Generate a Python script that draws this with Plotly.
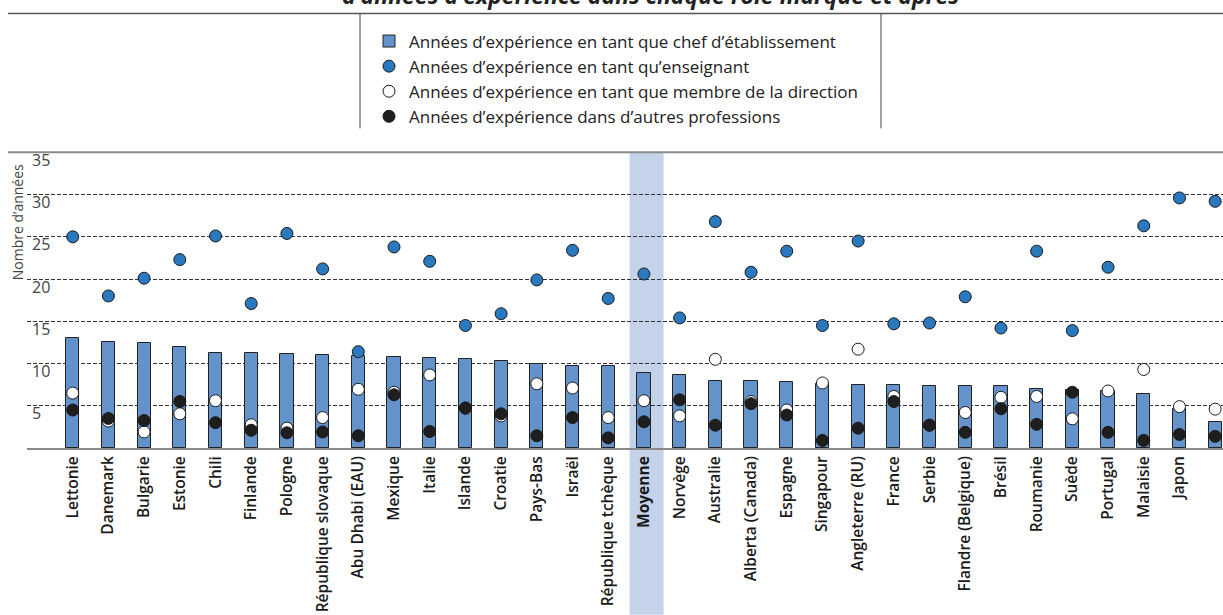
import plotly.graph_objects as go

# ---------------------------------------------------------------------
# data (years)
# ---------------------------------------------------------------------
countries = [
    "Lettonie", "Danemark", "Bulgarie", "Estonie", "Chili", "Finlande", "Pologne",
    "République slovaque", "Abu Dhabi (EAU)", "Mexique", "Italie", "Islande",
    "Croatie", "Pays-Bas", "Israël", "République tchèque", "Moyenne", "Norvège",
    "Australie", "Alberta (Canada)", "Espagne", "Singapour", "Angleterre (RU)",
    "France", "Serbie", "Flandre (Belgique)", "Brésil", "Roumanie", "Suède",
    "Portugal", "Malaisie", "Japon", "Corée",
]
principal_years = [
    13.0, 12.6, 12.4, 12.0, 11.2, 11.2, 11.1, 11.0, 10.85, 10.8, 10.7, 10.5,
    10.3, 10.0, 9.75, 9.7, 8.85, 8.65, 7.95, 7.95, 7.8, 7.6, 7.5,
    7.5, 7.35, 7.3, 7.3, 6.95, 6.9, 6.8, 6.4, 4.6, 3.05,
]
teacher_years = [
    25.0, 18.0, 20.1, 22.3, 25.1, 17.1, 25.4, 21.2, 11.4, 23.8, 22.1, 14.5,
    15.9, 19.9, 23.4, 17.7, 20.6, 15.4, 26.8, 20.8, 23.3, 14.5, 24.5,
    14.7, 14.8, 17.9, 14.2, 23.3, 13.9, 21.4, 26.3, 29.6, 29.2,
]
management_years = [
    6.5, 3.2, 1.9, 4.05, 5.6, 2.75, 2.35, 3.6, 6.95, 6.6, 8.65, 4.7,
    3.8, 7.6, 7.1, 3.6, 5.6, 3.8, 10.5, 5.5, 4.5, 7.7, 11.7,
    6.1, 2.7, 4.2, 6.0, 6.1, 3.45, 6.75, 9.3, 4.9, 4.6,
]
other_years = [
    4.5, 3.5, 3.25, 5.5, 3.0, 2.1, 1.8, 1.9, 1.45, 6.3, 1.95, 4.75,
    4.05, 1.45, 3.6, 1.2, 3.1, 5.7, 2.7, 5.25, 3.9, 0.9, 2.35,
    5.5, 2.7, 1.85, 4.65, 2.8, 6.6, 1.85, 0.9, 1.6, 1.38,
]
y_ticks = [0, 5, 10, 15, 20, 25, 30, 35]

legend_names = [
    "Années d’expérience en tant que chef d’établissement",
    "Années d’expérience en tant qu’enseignant",
    "Années d’expérience en tant que membre de la direction",
    "Années d’expérience dans d’autres professions",
]
title_text = "d’années d’expérience dans chaque rôle marqué et après"
y_title = "Nombre d’années"
highlight = "Moyenne"

# ---------------------------------------------------------------------
# layout constants (pixels)
# ---------------------------------------------------------------------
W, H = 1223, 615
Y_TOP = 38                      # headroom so the "35" label is not clipped
UNIT = 8.457                    # px per year
BOTTOM_PX = 448                 # pixel row of y = 0
L, R = 27, 0
B = H - BOTTOM_PX
T = BOTTOM_PX - Y_TOP * UNIT
PW, PH = W - L - R, H - T - B
FONT = "Open Sans"


def px_x(p):
    return (p - L) / PW


def px_y(p):
    return (BOTTOM_PX - p) / PH


x_idx = list(range(len(countries)))
tick_text = [f"<b>{c}</b>" if c == highlight else c for c in countries]

fig = go.Figure()

fig.add_trace(go.Bar(
    x=x_idx, y=principal_years, name=legend_names[0], width=0.37,
    marker=dict(color="#6493CC", line=dict(color="#222222", width=1)),
))
fig.add_trace(go.Scatter(
    x=x_idx, y=teacher_years, name=legend_names[1], mode="markers",
    marker=dict(size=12, color="#2A78BD", line=dict(color="#1a1a1a", width=1)),
))
fig.add_trace(go.Scatter(
    x=x_idx, y=management_years, name=legend_names[2], mode="markers",
    marker=dict(size=12, color="#ffffff", line=dict(color="#1a1a1a", width=1)),
))
fig.add_trace(go.Scatter(
    x=x_idx, y=other_years, name=legend_names[3], mode="markers",
    marker=dict(size=12, color="#1e1e1e", line=dict(color="#1a1a1a", width=1)),
))

hi = countries.index(highlight)
shapes = [
    # highlight band behind the average
    dict(type="rect", xref="x", yref="paper", x0=hi - 0.4, x1=hi + 0.55,
         y0=px_y(H), y1=px_y(152), fillcolor="#C5D3EA", line=dict(width=0), layer="below"),
    # top rule of plot area (35)
    dict(type="line", xref="paper", yref="y", x0=px_x(8), x1=1, y0=35, y1=35,
         line=dict(color="#8a8a8a", width=2)),
    # header rule
    dict(type="line", xref="paper", yref="paper", x0=px_x(8), x1=1,
         y0=px_y(13), y1=px_y(13), line=dict(color="#555555", width=1.5)),
    # legend box sides
    dict(type="line", xref="paper", yref="paper", x0=px_x(360), x1=px_x(360),
         y0=px_y(13), y1=px_y(128), line=dict(color="#444444", width=1)),
    dict(type="line", xref="paper", yref="paper", x0=px_x(881), x1=px_x(881),
         y0=px_y(13), y1=px_y(128), line=dict(color="#444444", width=1)),
]

annotations = [
    dict(text=y_title, xref="paper", yref="paper", x=px_x(17), y=px_y(222),
         textangle=-90, showarrow=False, xanchor="center", yanchor="middle",
         font=dict(family=FONT, size=14, color="#444444")),
    dict(text=f"<b><i>{title_text}</i></b>", xref="paper", yref="paper",
         x=px_x(650), y=px_y(13), showarrow=False, xanchor="center", yanchor="bottom",
         font=dict(family=FONT, size=23, color="#222222")),
]

fig.update_layout(
    width=W, height=H,
    margin=dict(l=L, r=R, t=T, b=B, pad=0),
    paper_bgcolor="white", plot_bgcolor="white",
    font=dict(family=FONT, color="#222222"),
    showlegend=True,
    legend=dict(
        x=px_x(369), y=px_y(23), xanchor="left", yanchor="top",
        font=dict(family=FONT, size=17, color="#222222"),
        bgcolor="rgba(0,0,0,0)", borderwidth=0, itemwidth=30,
        traceorder="normal",
    ),
    bargap=0,
    shapes=shapes,
    annotations=annotations,
    xaxis=dict(
        range=[-1.28, 32.22], tickmode="array", tickvals=x_idx, ticktext=tick_text,
        tickangle=-90, tickfont=dict(family=FONT, size=15.5, color="#1a1a1a", weight=600),
        showgrid=False, zeroline=False, showline=True, linecolor="#8a8a8a", linewidth=2,
        ticks="", fixedrange=True,
    ),
    yaxis=dict(
        range=[0, Y_TOP], tickmode="array", tickvals=y_ticks,
        ticklabelposition="inside", ticklabelshift=8, ticklabelstandoff=2,
        tickfont=dict(family=FONT, size=16, color="#444444"),
        showgrid=True, gridcolor="#333333", gridwidth=1, griddash="4px,2px",
        zeroline=False, showline=False, ticks="",
    ),
)

# the page is photographed from its top-left corner: drop the default body margin
fig.write_html(
    "out.html",
    config={"displayModeBar": False},
    post_script="document.body.style.margin='0';",
)
